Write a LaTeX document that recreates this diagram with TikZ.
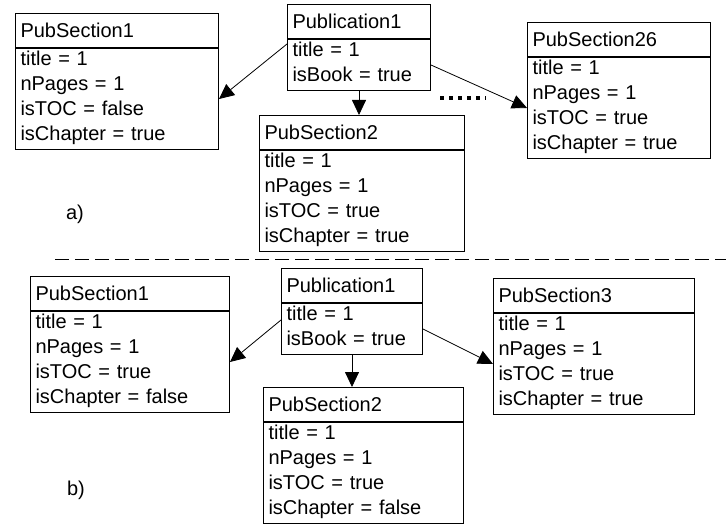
\documentclass[tikz,border=0pt]{standalone}
\usepackage{fontspec}
\setmainfont{Liberation Sans}
\usetikzlibrary{arrows.meta}

\begin{document}
\begin{tikzpicture}[x=1pt, y=-1pt, font=\fontsize{20}{25}\selectfont]
    \tikzset{head/.style = {draw, line width=1pt, anchor=north west, inner xsep=5pt, inner ysep=0pt, text height=24pt, text depth=10pt, align=left}}
    \tikzset{attr/.style = {draw, line width=1pt, anchor=north west, inner xsep=5pt, inner ysep=0pt, align=left,
        execute at begin node=\rule{0pt}{17pt}, execute at end node=\rule[-9pt]{0pt}{9pt}}}
    \tikzset{link/.style = {line width=0.8pt, -{Triangle[length=15pt, width=14pt]}}}

    \useasboundingbox (0,0) rectangle (726,524);

    % objects a)
    \node[head, text width=193pt] (secA1h) at (15,13) {PubSection1};
    \node[attr, text width=193pt] (secA1b) at (secA1h.south west) {title = 1\\nPages = 1\\isTOC = false\\isChapter = true};
    \node[head, text width=133pt] (pubAh) at (287,4) {Publication1};
    \node[attr, text width=133pt] (pubAb) at (pubAh.south west) {title = 1\\isBook = true};
    \node[head, text width=195pt] (secA2h) at (259,115) {PubSection2};
    \node[attr, text width=195pt] (secA2b) at (secA2h.south west) {title = 1\\nPages = 1\\isTOC = true\\isChapter = true};
    \node[head, text width=173pt] (secA26h) at (527,22) {PubSection26};
    \node[attr, text width=173pt] (secA26b) at (secA26h.south west) {title = 1\\nPages = 1\\isTOC = true\\isChapter = true};
    \node (labA) at (75,214) {a)};

    % edges a)
    \draw[link] ([yshift=-5pt]pubAb.north west) -- (secA1b.east);
    \draw[link] (pubAb.south) -- (pubAb.south |- secA2h.north);
    \draw[link] (pubAb.east) -- (secA26b.west);
    \draw[line width=3.5pt, dash pattern=on 4pt off 5pt] (440,98) -- (486,98);

    % separator
    \draw[line width=1pt, dash pattern=on 14pt off 6pt] (55,259) -- (726,259);

    % objects b)
    \node[head, text width=189pt] (secB1h) at (30,276) {PubSection1};
    \node[attr, text width=189pt] (secB1b) at (secB1h.south west) {title = 1\\nPages = 1\\isTOC = true\\isChapter = false};
    \node[head, text width=131pt] (pubBh) at (281,268) {Publication1};
    \node[attr, text width=131pt] (pubBb) at (pubBh.south west) {title = 1\\isBook = true};
    \node[head, text width=190pt] (secB2h) at (263,387) {PubSection2};
    \node[attr, text width=190pt] (secB2b) at (secB2h.south west) {title = 1\\nPages = 1\\isTOC = true\\isChapter = false};
    \node[head, text width=191pt] (secB3h) at (493,278) {PubSection3};
    \node[attr, text width=191pt] (secB3b) at (secB3h.south west) {title = 1\\nPages = 1\\isTOC = true\\isChapter = true};
    \node (labB) at (76,490) {b)};

    % edges b)
    \draw[link] ([yshift=-17pt]pubBb.north west) -- (secB1b.east);
    \draw[link] (pubBb.south) -- (pubBb.south |- secB2h.north);
    \draw[link] (pubBb.east) -- (secB3b.west);
\end{tikzpicture}
\end{document}
